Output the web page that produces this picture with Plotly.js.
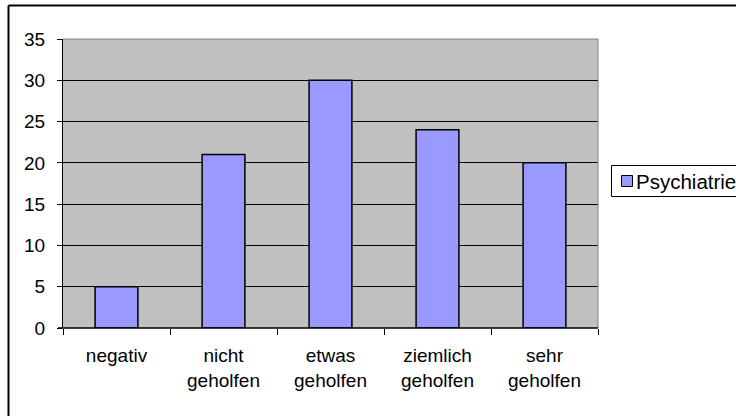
<!DOCTYPE html>
<html><head><meta charset="utf-8">
<script src="https://cdn.plot.ly/plotly-3.0.1.min.js"></script>
<style>html,body{margin:0;padding:0;background:#fff}#c{width:736px;height:416px}</style>
</head><body><div id="c"></div>
<script>
const categories = ["negativ", "nicht<br>geholfen", "etwas<br>geholfen", "ziemlich<br>geholfen", "sehr<br>geholfen"];
const seriesName = "Psychiatrie";
const values = [5, 21, 30, 24, 20];
const yTicks = [0, 5, 10, 15, 20, 25, 30, 35];

const W = 736, H = 416, L = 63, R = 138, T = 39, B = 88;
const pw = W - L - R, ph = H - T - B;
const px = x => (x - L) / pw;
const py = y => (H - B - y) / ph;
const barColor = '#9999FF';

const trace = {
  type: 'bar', x: categories, y: values, name: seriesName,
  marker: {color: barColor, line: {color: '#000', width: 1.5}},
  showlegend: false, hoverinfo: 'skip'
};
const font = {family: 'Liberation Sans, Arial, sans-serif', size: 19, color: '#000'};
const legendFont = {family: 'Liberation Sans, Arial, sans-serif', size: 20.5, color: '#000'};
const layout = {
  width: W, height: H,
  margin: {l: L, r: R, t: T, b: B, pad: 0},
  paper_bgcolor: '#fff', plot_bgcolor: '#C0C0C0',
  font: font,
  bargap: 0.6,
  showlegend: false,
  xaxis: {type: 'category', showgrid: false, zeroline: false,
          showline: false, ticks: 'outside', ticklen: 6, tickcolor: '#000',
          tickson: 'boundaries', tickfont: font, ticklabelstandoff: 14, automargin: false},
  yaxis: {range: [0, 35], tickvals: yTicks, showgrid: true, gridcolor: '#000', gridwidth: 1,
          zeroline: false, showline: true, linecolor: '#000', linewidth: 1,
          ticks: 'outside', ticklen: 5, tickcolor: '#000', tickfont: font,
          ticklabelstandoff: 8, automargin: false},
  annotations: [
    {xref: 'paper', yref: 'paper', x: px(634), y: py(181), xanchor: 'left', yanchor: 'middle',
     text: seriesName, showarrow: false, font: legendFont}
  ],
  shapes: [
    {type: 'line', xref: 'paper', yref: 'paper', x0: 0, x1: 1, y0: 1, y1: 1, line: {color: '#808080', width: 1}},
    {type: 'line', xref: 'paper', yref: 'paper', x0: 1, x1: 1, y0: 0, y1: 1, line: {color: '#808080', width: 1}},
    {type: 'line', xref: 'paper', yref: 'paper', x0: px(58), x1: 1, y0: 0, y1: 0, line: {color: '#000', width: 1.5}},
    {type: 'line', xref: 'paper', yref: 'paper', x0: px(8.5), x1: px(750), y0: py(5.5), y1: py(5.5), line: {color: '#000', width: 2}},
    {type: 'line', xref: 'paper', yref: 'paper', x0: px(8.5), x1: px(8.5), y0: py(5.5), y1: py(430), line: {color: '#000', width: 2}},
    {type: 'line', xref: 'paper', yref: 'paper', x0: px(611.5), x1: px(750), y0: py(165.5), y1: py(165.5), line: {color: '#000', width: 1}},
    {type: 'line', xref: 'paper', yref: 'paper', x0: px(611.5), x1: px(750), y0: py(196.5), y1: py(196.5), line: {color: '#000', width: 1}},
    {type: 'line', xref: 'paper', yref: 'paper', x0: px(611.5), x1: px(611.5), y0: py(165.5), y1: py(196.5), line: {color: '#000', width: 1}},
    {type: 'rect', xref: 'paper', yref: 'paper', x0: px(621.5), x1: px(632.5), y0: py(175.5), y1: py(186.5),
     fillcolor: barColor, line: {color: '#000', width: 1}}
  ]
};
Plotly.newPlot('c', [trace], layout, {staticPlot: true, displayModeBar: false});
</script></body></html>
